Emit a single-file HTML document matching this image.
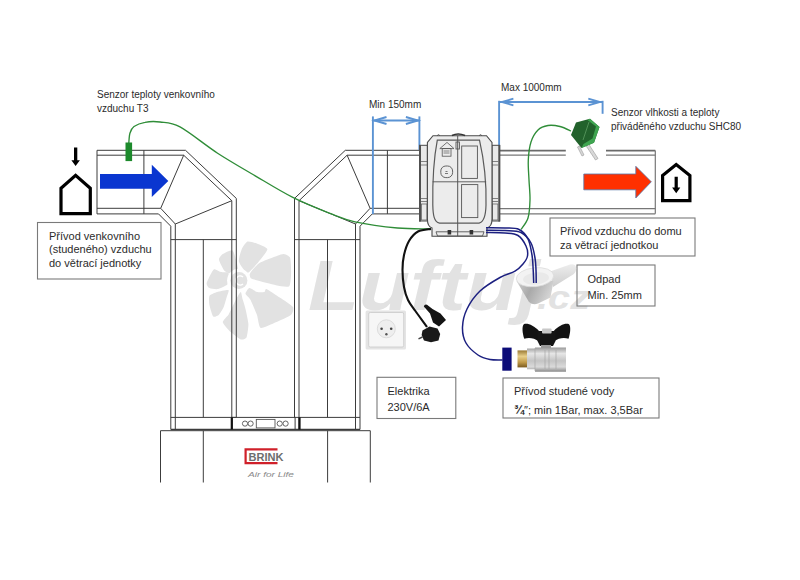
<!DOCTYPE html>
<html><head><meta charset="utf-8"><style>
html,body{margin:0;padding:0;background:#fff;}
body{width:800px;height:580px;overflow:hidden;position:relative;}
svg{position:absolute;left:0;top:0;}
text{font-family:"Liberation Sans",sans-serif;}
</style></head><body>
<svg width="800" height="580" viewBox="0 0 800 580">
<rect width="800" height="580" fill="#fff"/>
<path d="M238.9,261.6 C238.4,259.2 240.9,251.2 241.7,249.2 C242.6,247.2 245.9,242.2 247.4,241.6 C249.0,241.1 254.9,242.8 256.9,243.5 C258.9,244.3 267.2,247.4 267.4,249.2 C267.6,251.0 260.4,259.5 258.8,261.6 C257.2,263.7 252.5,269.0 251.2,270.1 C250.0,271.2 247.7,273.8 246.5,273.0 C245.3,272.1 239.4,263.9 238.9,261.6Z" fill="#e2e2e2"/>
<path d="M250.3,273.0 C251.0,271.4 256.6,265.0 258.8,263.5 C261.0,261.9 269.6,258.7 272.1,257.8 C274.6,256.8 281.7,254.0 283.5,254.0 C285.3,254.0 289.4,255.9 290.1,257.8 C290.9,259.7 291.2,270.1 291.1,273.0 C291.0,275.8 290.7,285.0 289.2,286.2 C287.7,287.5 279.7,286.0 275.9,285.3 C272.1,284.5 253.8,279.9 251.2,278.6 C248.7,277.4 249.5,274.5 250.3,273.0Z" fill="#e2e2e2"/>
<path d="M249.3,288.1 C250.5,287.9 255.4,291.5 256.9,291.9 C258.4,292.3 263.6,292.2 264.5,291.9 C265.5,291.6 264.9,288.5 266.4,289.1 C267.9,289.6 277.0,295.8 279.7,297.6 C282.4,299.4 291.8,305.4 293.0,307.1 C294.1,308.8 292.8,313.2 291.1,314.7 C289.4,316.2 278.9,321.0 275.9,322.3 C272.9,323.6 262.6,328.7 260.7,328.0 C258.8,327.2 258.0,317.5 256.9,314.7 C255.9,311.9 251.4,301.6 250.3,299.5 C249.1,297.4 245.6,295.0 245.5,293.8 C245.4,292.7 248.2,288.3 249.3,288.1Z" fill="#e2e2e2"/>
<path d="M240.8,291.9 C241.4,292.1 242.2,297.8 242.7,299.5 C243.2,301.2 245.0,306.5 245.5,309.0 C246.1,311.5 248.3,321.3 248.4,324.2 C248.5,327.0 247.2,335.9 246.5,337.5 C245.7,339.0 242.4,339.9 240.8,339.4 C239.2,338.8 232.2,333.5 230.4,331.8 C228.6,330.1 223.0,324.0 222.8,322.3 C222.6,320.6 227.5,316.2 228.5,314.7 C229.4,313.2 231.4,308.8 232.3,307.1 C233.1,305.4 236.1,299.1 237.0,297.6 C237.9,296.1 240.2,291.7 240.8,291.9Z" fill="#e2e2e2"/>
<path d="M228.5,290.0 C229.4,290.6 227.0,295.9 226.6,297.6 C226.1,299.3 224.5,305.4 223.7,307.1 C223.0,308.8 220.0,313.7 219.0,314.7 C217.9,315.6 214.2,317.5 213.3,316.6 C212.3,315.6 209.9,307.3 209.5,305.2 C209.1,303.1 208.7,297.0 209.5,295.7 C210.2,294.4 215.2,292.5 217.1,291.9 C219.0,291.4 227.5,289.5 228.5,290.0Z" fill="#e2e2e2"/>
<path d="M228.5,273.0 C229.1,274.2 228.6,282.7 227.5,284.3 C226.5,285.9 219.8,288.7 218.0,289.1 C216.2,289.5 210.6,288.7 209.5,288.1 C208.3,287.6 206.5,284.7 206.6,283.4 C206.7,282.1 209.7,276.3 210.4,274.8 C211.2,273.4 213.2,269.4 214.2,269.2 C215.3,268.9 219.4,271.6 220.9,272.0 C222.3,272.4 227.8,271.7 228.5,273.0Z" fill="#e2e2e2"/>
<path d="M232.3,250.2 C233.6,250.7 235.5,257.7 236.1,259.7 C236.6,261.7 238.3,268.7 238.0,270.1 C237.6,271.5 233.6,273.8 232.3,273.9 C230.9,274.0 226.0,272.5 224.7,271.1 C223.3,269.6 219.2,261.4 219.0,259.7 C218.8,258.0 221.4,254.9 222.8,254.0 C224.1,253.0 230.9,249.6 232.3,250.2Z" fill="#e2e2e2"/>
<circle cx="238.9" cy="280.5" r="11.8" fill="#fff"/>
<circle cx="238.9" cy="280.5" r="8.5" fill="#e2e2e2"/>
<path d="M243,277 A4.5,4.5 0 1 0 243,284" stroke="#fff" stroke-width="1.6" fill="none"/>
<text x="308" y="310" font-family="Liberation Sans" font-weight="bold" font-style="italic" font-size="70" fill="#e2e2e2" textLength="232" lengthAdjust="spacingAndGlyphs">Luftuj</text>
<text x="537" y="309" font-family="Liberation Sans" font-weight="bold" font-style="italic" font-size="33" fill="#e2e2e2" textLength="53" lengthAdjust="spacingAndGlyphs">.cz</text>
<line x1="97.00" y1="150.30" x2="185.50" y2="150.30" stroke="#3c3c3c" stroke-width="1.00"/>
<line x1="97.00" y1="155.20" x2="183.70" y2="155.20" stroke="#3c3c3c" stroke-width="1.00"/>
<line x1="97.00" y1="208.30" x2="160.70" y2="208.30" stroke="#3c3c3c" stroke-width="1.00"/>
<line x1="97.00" y1="213.90" x2="158.50" y2="213.90" stroke="#3c3c3c" stroke-width="1.00"/>
<line x1="97.00" y1="150.30" x2="97.00" y2="213.90" stroke="#3c3c3c" stroke-width="1.00"/>
<line x1="143.90" y1="150.30" x2="143.90" y2="213.90" stroke="#3c3c3c" stroke-width="1.00"/>
<line x1="185.50" y1="150.30" x2="236.30" y2="198.40" stroke="#3c3c3c" stroke-width="1.00"/>
<line x1="183.70" y1="155.20" x2="231.80" y2="200.70" stroke="#3c3c3c" stroke-width="1.00"/>
<line x1="183.70" y1="155.20" x2="160.70" y2="208.30" stroke="#3c3c3c" stroke-width="1.00"/>
<line x1="160.70" y1="208.30" x2="175.30" y2="224.00" stroke="#3c3c3c" stroke-width="1.00"/>
<line x1="158.50" y1="213.90" x2="170.80" y2="226.20" stroke="#3c3c3c" stroke-width="1.00"/>
<line x1="231.80" y1="200.70" x2="175.30" y2="224.00" stroke="#3c3c3c" stroke-width="1.00"/>
<line x1="236.30" y1="198.40" x2="236.30" y2="417.40" stroke="#3c3c3c" stroke-width="1.00"/>
<line x1="231.80" y1="200.70" x2="231.80" y2="429.50" stroke="#3c3c3c" stroke-width="1.00"/>
<line x1="175.30" y1="224.00" x2="175.30" y2="429.50" stroke="#3c3c3c" stroke-width="1.00"/>
<line x1="170.80" y1="226.20" x2="170.80" y2="429.50" stroke="#3c3c3c" stroke-width="1.00"/>
<line x1="170.80" y1="239.60" x2="236.30" y2="239.60" stroke="#3c3c3c" stroke-width="1.00"/>
<line x1="203.30" y1="239.60" x2="203.30" y2="417.40" stroke="#3c3c3c" stroke-width="1.00"/>
<line x1="170.80" y1="417.40" x2="236.30" y2="417.40" stroke="#3c3c3c" stroke-width="1.00"/>
<line x1="345.30" y1="150.30" x2="294.50" y2="198.40" stroke="#3c3c3c" stroke-width="1.00"/>
<line x1="347.10" y1="155.20" x2="299.00" y2="200.70" stroke="#3c3c3c" stroke-width="1.00"/>
<line x1="347.10" y1="155.20" x2="370.10" y2="208.30" stroke="#3c3c3c" stroke-width="1.00"/>
<line x1="370.10" y1="208.30" x2="355.50" y2="224.00" stroke="#3c3c3c" stroke-width="1.00"/>
<line x1="372.30" y1="213.90" x2="360.00" y2="226.20" stroke="#3c3c3c" stroke-width="1.00"/>
<line x1="299.00" y1="200.70" x2="355.50" y2="224.00" stroke="#3c3c3c" stroke-width="1.00"/>
<line x1="294.50" y1="198.40" x2="294.50" y2="417.40" stroke="#3c3c3c" stroke-width="1.00"/>
<line x1="299.00" y1="200.70" x2="299.00" y2="429.50" stroke="#3c3c3c" stroke-width="1.00"/>
<line x1="355.50" y1="224.00" x2="355.50" y2="429.50" stroke="#3c3c3c" stroke-width="1.00"/>
<line x1="360.00" y1="226.20" x2="360.00" y2="429.50" stroke="#3c3c3c" stroke-width="1.00"/>
<line x1="360.00" y1="239.60" x2="294.50" y2="239.60" stroke="#3c3c3c" stroke-width="1.00"/>
<line x1="327.50" y1="239.60" x2="327.50" y2="417.40" stroke="#3c3c3c" stroke-width="1.00"/>
<line x1="360.00" y1="417.40" x2="294.50" y2="417.40" stroke="#3c3c3c" stroke-width="1.00"/>
<line x1="345.30" y1="150.30" x2="419.00" y2="150.30" stroke="#3c3c3c" stroke-width="1.00"/>
<line x1="347.10" y1="155.20" x2="419.00" y2="155.20" stroke="#3c3c3c" stroke-width="1.00"/>
<line x1="370.10" y1="208.30" x2="419.00" y2="208.30" stroke="#3c3c3c" stroke-width="1.00"/>
<line x1="372.30" y1="213.90" x2="419.00" y2="213.90" stroke="#3c3c3c" stroke-width="1.00"/>
<line x1="387.40" y1="150.30" x2="387.40" y2="213.90" stroke="#3c3c3c" stroke-width="1.00"/>
<line x1="170.80" y1="429.50" x2="360.00" y2="429.50" stroke="#3c3c3c" stroke-width="1.30"/>
<line x1="500.00" y1="150.60" x2="565.80" y2="150.60" stroke="#6a6a6a" stroke-width="1.60"/>
<line x1="606.00" y1="150.60" x2="655.30" y2="150.60" stroke="#6a6a6a" stroke-width="1.60"/>
<line x1="500.00" y1="155.20" x2="565.80" y2="155.20" stroke="#777" stroke-width="1.20"/>
<line x1="606.00" y1="155.20" x2="655.30" y2="155.20" stroke="#777" stroke-width="1.20"/>
<line x1="500.00" y1="208.60" x2="655.30" y2="208.60" stroke="#777" stroke-width="1.20"/>
<line x1="500.00" y1="213.80" x2="655.30" y2="213.80" stroke="#777" stroke-width="1.20"/>
<line x1="655.30" y1="150.60" x2="655.30" y2="213.80" stroke="#777" stroke-width="1.20"/>
<rect x="231.8" y="417.4" width="63.3" height="12.1" fill="none" stroke="#3c3c3c" stroke-width="1"/>
<line x1="231.80" y1="417.40" x2="231.80" y2="429.50" stroke="#111" stroke-width="2.20"/>
<line x1="299.50" y1="417.40" x2="299.50" y2="429.50" stroke="#111" stroke-width="2.20"/>
<circle cx="245.0" cy="423.6" r="2.6" fill="none" stroke="#555" stroke-width="0.9"/>
<circle cx="250.6" cy="423.6" r="2.6" fill="none" stroke="#555" stroke-width="0.9"/>
<circle cx="279.7" cy="423.6" r="2.6" fill="none" stroke="#555" stroke-width="0.9"/>
<circle cx="285.6" cy="423.6" r="2.6" fill="none" stroke="#555" stroke-width="0.9"/>
<rect x="256.3" y="419.4" width="18.7" height="8.5" fill="none" stroke="#555" stroke-width="0.9"/>
<path d="M160.5,482.5 V430.7 H370.3 V482.5" fill="none" stroke="#3c3c3c" stroke-width="1"/>
<line x1="203.30" y1="430.70" x2="203.30" y2="482.50" stroke="#3c3c3c" stroke-width="1.00"/>
<line x1="327.60" y1="430.70" x2="327.60" y2="482.50" stroke="#3c3c3c" stroke-width="1.00"/>
<path d="M277.5,449.3 H245.6 V463.2 H277.5" fill="none" stroke="#d0202a" stroke-width="2.2"/>
<text x="248.6" y="460.6" font-family="Liberation Sans" font-weight="bold" font-size="10" fill="#6d6d6d" textLength="35" lengthAdjust="spacingAndGlyphs">BRINK</text>
<text x="248" y="477" font-family="Liberation Serif" font-style="italic" font-size="8" fill="#8a8a8a" textLength="46" lengthAdjust="spacingAndGlyphs">Air for Life</text>
<path d="M100,173.9 H151.8 V164.8 L168.3,181 L151.8,197.1 V188.8 H100 Z" fill="#0a36d0"/>
<path d="M583.8,174 H635.8 V166.3 L651.3,181.8 L635.8,198 V189.8 H583.8 Z" fill="#ff3000" stroke="#5577aa" stroke-width="0.8"/>
<path d="M61,213.6 V188.3 L75.6,175.3 L90.3,188.3 V213.6 Z" fill="none" stroke="#000" stroke-width="3.2" stroke-linejoin="miter"/>
<path d="M74,147.5 H77.3 V160.3 H79.9 L75.6,166 L71.4,160.3 H74 Z" fill="#000"/>
<path d="M662.6,200.7 V175.6 L676.2,164.5 L689.9,175.6 V200.7 Z" fill="none" stroke="#000" stroke-width="3.2"/>
<path d="M674.6,176.8 H677.8 V187.4 H680.3 L676.2,193.3 L672.1,187.4 H674.6 Z" fill="#000"/>
<g stroke="#5b93d3" stroke-width="1.9" fill="none">
<path d="M372.9,116.4 V214"/><path d="M419.4,116.4 V150"/><path d="M373.5,120.5 H419"/>
<path d="M386.5,117 L374.5,120.5 L386.5,124"/><path d="M405.9,117 L417.9,120.5 L405.9,124"/>
<path d="M499.1,100.8 V150.6"/><path d="M602.6,100.8 V113.8"/><path d="M499.8,102 H602"/>
<path d="M513.4,98.7 L501.9,102 L513.4,105.3"/><path d="M588.3,98.7 L599.8,102 L588.3,105.3"/>
</g>
<text x="97.0" y="98.0" font-size="10.0" fill="#2b2b2b" >Senzor teploty venkovního</text>
<text x="97.0" y="111.5" font-size="10.0" fill="#2b2b2b" >vzduchu T3</text>
<text x="369.0" y="107.5" font-size="10.0" fill="#2b2b2b" >Min 150mm</text>
<text x="501.0" y="91.0" font-size="10.0" fill="#2b2b2b" >Max 1000mm</text>
<text x="611.0" y="116.0" font-size="10.0" fill="#2b2b2b" >Senzor vlhkosti a teploty</text>
<text x="611.0" y="129.5" font-size="10.0" fill="#2b2b2b" >přiváděného vzduchu SHC80</text>
<rect x="37.5" y="222.5" width="123.5" height="56.5" fill="none" stroke="#7a7a7a" stroke-width="1.1"/>
<text x="49.0" y="239.5" font-size="11.0" fill="#2b2b2b" >Přívod venkovního</text>
<text x="49.0" y="253.0" font-size="11.0" fill="#2b2b2b" >(studeného) vzduchu</text>
<text x="49.0" y="266.5" font-size="11.0" fill="#2b2b2b" >do větrací jednotky</text>
<rect x="550.0" y="218.0" width="145.0" height="38.0" fill="none" stroke="#7a7a7a" stroke-width="1.1"/>
<text x="560.0" y="235.0" font-size="11.0" fill="#2b2b2b" >Přívod vzduchu do domu</text>
<text x="560.0" y="248.5" font-size="11.0" fill="#2b2b2b" >za větrací jednotkou</text>
<rect x="577.0" y="265.0" width="78.0" height="41.0" fill="none" stroke="#7a7a7a" stroke-width="1.1"/>
<text x="587.5" y="282.5" font-size="11.0" fill="#2b2b2b" >Odpad</text>
<text x="587.5" y="299.0" font-size="11.0" fill="#2b2b2b" >Min. 25mm</text>
<rect x="377.0" y="377.3" width="78.8" height="41.2" fill="none" stroke="#7a7a7a" stroke-width="1.1"/>
<text x="387.5" y="395.3" font-size="11.0" fill="#2b2b2b" >Elektrika</text>
<text x="387.5" y="411.0" font-size="11.0" fill="#2b2b2b" >230V/6A</text>
<rect x="503.0" y="378.0" width="156.0" height="40.0" fill="none" stroke="#7a7a7a" stroke-width="1.1"/>
<text x="514.0" y="395.0" font-size="11.0" fill="#2b2b2b" >Přívod studené vody</text>
<text x="514.0" y="414.0" font-size="11.0" fill="#2b2b2b" ><tspan font-weight="bold" font-size="12">¾</tspan>″; min 1Bar, max. 3,5Bar</text>
<g stroke="#4a4a4a" stroke-width="1">
<rect x="419.5" y="145.3" width="7.9" height="75.7" fill="#e9e9e9"/>
<rect x="492" y="145.3" width="7.6" height="75.7" fill="#e9e9e9"/>
</g>
<line x1="420" y1="145" x2="420" y2="221.5" stroke="#505050" stroke-width="2"/>
<line x1="499.3" y1="145" x2="499.3" y2="221.5" stroke="#505050" stroke-width="2"/>
<g stroke="#666" stroke-width="0.8" fill="none">
<line x1="421" y1="161.5" x2="427.4" y2="161.5"/>
<line x1="492" y1="161.5" x2="498.3" y2="161.5"/>
<line x1="421" y1="165.0" x2="427.4" y2="165.0"/>
<line x1="492" y1="165.0" x2="498.3" y2="165.0"/>
<line x1="421" y1="198.5" x2="427.4" y2="198.5"/>
<line x1="492" y1="198.5" x2="498.3" y2="198.5"/>
<line x1="421" y1="201.5" x2="427.4" y2="201.5"/>
<line x1="492" y1="201.5" x2="498.3" y2="201.5"/>
<rect x="421.5" y="204" width="5.5" height="16"/>
<rect x="492.4" y="204" width="5.5" height="16"/>
</g>
<path d="M433,135.7 H486.5 L492,142.5 V219 Q492,226.5 487,228 V236.2 H432 V228 Q427.4,226.5 427.4,219 V142.5 Z" fill="#ececec" stroke="#4a4a4a" stroke-width="1.1"/>
<g fill="none" stroke="#555" stroke-width="0.9">
<path d="M437.3,140.2 H479.5 C484,160 486.5,185 486,205 C485.8,215 484,222 479,223.2 H439.5 C434,222 433,215 432.8,205 C432.5,185 433.5,160 437.3,140.2 Z" stroke-width="1.2" stroke="#5a5a5a"/>
<line x1="432.6" y1="181.8" x2="486.2" y2="181.8"/>
<rect x="461.7" y="146" width="15.7" height="32.4"/>
<rect x="461.6" y="184.6" width="16.2" height="33"/>
<rect x="440.8" y="166" width="11.8" height="11.6" rx="5"/>
<path d="M439.8,148.6 L447,142.4 L454,148.6 Z" stroke-width="0.8"/><rect x="442.2" y="148.6" width="8.8" height="7.6" stroke-width="0.8"/>
<path d="M443.5,151 H449.5 M443.5,153 H449.5" stroke="#777" stroke-width="0.9"/>
<rect x="456" y="142" width="3.4" height="7"/>
<path d="M436,231.8 H484 L482.5,236 H437.5 Z"/>
</g>
<line x1="457.7" y1="135.7" x2="457.7" y2="236" stroke="#555" stroke-width="1"/>
<rect x="447.6" y="230" width="3.6" height="4.5" fill="#333"/>
<rect x="469.6" y="230" width="3.6" height="4.5" fill="#333"/>
<path d="M437,135.7 q1.5,-2 3,0 M479,135.7 q1.5,-2 3,0" stroke="#555" stroke-width="1" fill="none"/>
<path d="M452,135.5 q6,-3 13,0" stroke="#333" stroke-width="1.6" fill="none"/>
<path d="M445,173.5 h3 M445.5,171.5 h2" stroke="#777" stroke-width="1"/>
<defs><linearGradient id="fun" x1="0" y1="0" x2="1" y2="0.3"><stop offset="0" stop-color="#cfcfcf"/><stop offset="0.45" stop-color="#a9a9a9"/><stop offset="1" stop-color="#d4d4d4"/></linearGradient><linearGradient id="spout" x1="0" y1="0" x2="0" y2="1"><stop offset="0" stop-color="#ededed"/><stop offset="1" stop-color="#cdcdcd"/></linearGradient></defs>
<path d="M550,271.5 L570,264.5 Q576,263.3 576.2,268.5 Q576,273.5 571.5,275.5 L553,287 Z" fill="url(#spout)"/>
<path d="M516.5,281 L529,302 Q533,305.5 538,303.5 L550.5,297.5 L553.5,281 Z" fill="url(#fun)"/>
<ellipse cx="535" cy="277.2" rx="18.8" ry="9.5" transform="rotate(-6 535 277.2)" fill="#f3f3f3" stroke="#d8d8d8" stroke-width="0.7"/>
<ellipse cx="536" cy="278.5" rx="13" ry="6" transform="rotate(-6 536 278.5)" fill="#e9e9e9"/>
<path d="M128.8,143.0 C129.0,141.3 129.1,135.8 130.0,133.0 C130.9,130.2 131.5,128.3 134.0,126.5 C136.5,124.7 140.7,123.0 145.0,122.3 C149.3,121.5 154.2,121.2 160.0,122.0 C165.8,122.8 170.4,121.7 180.0,126.9 C189.6,132.1 205.1,145.0 217.6,153.2 C230.1,161.3 242.7,168.4 255.2,175.8 C267.7,183.2 280.3,191.1 292.8,197.4 C305.3,203.7 319.6,209.3 330.0,213.4 C340.4,217.5 343.8,219.3 355.0,221.8 C366.2,224.2 384.8,226.8 397.5,228.0 C410.2,229.2 425.4,228.7 431.0,228.8" fill="none" stroke="#2f8d38" stroke-width="1.35"/>
<rect x="125.5" y="142.5" width="6.6" height="18.6" fill="#1d8a2c"/>
<path d="M571.0,131.0 C569.2,130.2 563.8,127.4 560.0,126.5 C556.2,125.6 551.7,124.9 548.0,125.5 C544.3,126.1 540.8,127.2 538.0,130.0 C535.2,132.8 532.6,137.0 531.0,142.0 C529.4,147.0 528.6,153.7 528.3,160.0 C528.0,166.3 528.7,173.3 529.0,180.0 C529.3,186.7 530.2,193.7 530.0,200.0 C529.8,206.3 529.5,213.1 528.0,218.0 C526.5,222.9 522.2,227.6 521.0,229.5" fill="none" stroke="#2f8d38" stroke-width="1.35"/>
<path d="M431.0,229.0 C428.8,229.4 421.7,229.5 418.0,231.5 C414.3,233.5 411.3,237.1 409.0,241.0 C406.7,244.9 405.1,250.2 404.0,255.0 C402.9,259.8 402.5,264.7 402.5,270.0 C402.5,275.3 403.1,282.0 404.0,287.0 C404.9,292.0 406.1,296.0 408.0,300.0 C409.9,304.0 412.2,306.5 415.4,311.0 C418.6,315.5 425.1,324.3 427.0,327.0" fill="none" stroke="#111" stroke-width="2.1"/>
<path d="M486.0,227.8 C489.2,227.8 499.5,227.7 505.0,228.0 C510.5,228.3 515.2,227.7 519.0,229.5 C522.8,231.3 525.8,234.8 528.0,239.0 C530.2,243.2 531.1,249.8 532.0,255.0 C532.9,260.2 532.9,265.3 533.2,270.0 C533.5,274.7 533.6,280.8 533.7,283.0" fill="none" stroke="#1c2080" stroke-width="1.5"/>
<path d="M486.0,230.2 C489.2,230.2 499.2,230.1 505.0,230.5 C510.8,230.9 516.7,230.4 521.0,232.5 C525.3,234.6 528.7,238.8 531.0,243.0 C533.3,247.2 534.2,253.5 535.0,258.0 C535.8,262.5 535.8,265.8 536.0,270.0 C536.2,274.2 536.2,280.8 536.2,283.0" fill="none" stroke="#1c2080" stroke-width="1.5"/>
<path d="M486.0,232.5 C489.2,232.6 499.7,232.5 505.0,233.0 C510.3,233.5 514.5,233.3 518.0,235.5 C521.5,237.7 524.4,242.6 526.0,246.0 C527.6,249.4 528.0,253.0 527.5,256.0 C527.0,259.0 525.1,261.5 523.0,264.0 C520.9,266.5 518.8,269.0 515.0,271.2 C511.2,273.5 505.8,274.2 500.0,277.5 C494.2,280.8 485.5,285.8 480.0,291.0 C474.5,296.2 469.9,303.0 467.0,309.0 C464.1,315.0 462.7,321.3 462.5,327.0 C462.3,332.7 463.4,338.3 466.0,343.0 C468.6,347.7 474.0,352.2 478.0,355.0 C482.0,357.8 485.9,358.7 490.0,359.5 C494.1,360.3 500.4,359.9 502.5,360.0" fill="none" stroke="#1c2080" stroke-width="1.5"/>
<path d="M588,143 L598,158.5 L595.5,160 L585.5,145 Z" fill="#d8d8d8" stroke="#999" stroke-width="0.6"/>
<path d="M579.5,146 L584,155 L582,156 L577.5,147 Z" fill="#d8d8d8" stroke="#999" stroke-width="0.6"/>
<path d="M571,135 L576,122.5 L590,118.8 L599.5,127 L594,142.8 L581.5,148 Z" fill="#22622c"/>
<path d="M590,118.8 L599.5,127 L594,142.8 L581.5,148 L583.5,144 L592.5,138.5 L596,126.5 L587.5,120 Z" fill="#3fa550"/>
<path d="M589,122 L583,140" stroke="#7fbf80" stroke-width="0.5"/>
<rect x="365.6" y="310.6" width="40.4" height="38.8" rx="1.5" fill="#e4e4e4"/>
<rect x="368.7" y="312.5" width="35" height="34.5" rx="1.5" fill="#f6f6f6" stroke="#c9c9c9" stroke-width="0.8"/>
<circle cx="386.3" cy="328.8" r="9" fill="#eeeeee" stroke="#d6d6d6" stroke-width="0.8"/>
<circle cx="381.6" cy="328.8" r="1.3" fill="#444"/><circle cx="391.2" cy="328.8" r="1.3" fill="#444"/><circle cx="386.4" cy="334.2" r="1.2" fill="#555"/>
<path d="M423.8,306.5 Q424.5,304 427,304.8 L432.5,309 L440.5,313.5 L446,320 L439,326.5 L433,322.5 L430,313.5 Z" fill="#141414"/>
<path d="M422.5,330.5 L429.5,326.5 L437.5,328.5 L440.2,334 L438.5,340.5 L431,342.2 L424,340.5 L421.6,335 Z" fill="#1a1a1a"/>
<path d="M418.5,338.8 L422.5,337" stroke="#444" stroke-width="1.4"/>
<path d="M539,331 C534,325.5 527.5,322.8 523.8,324.2 C521.8,326 522.3,333 524.3,338.8 C529,337.2 534,338 539,341.5 Z" fill="#121212"/>
<path d="M553.8,331 C558.8,325.5 565.3,322.8 569,324.2 C571,326 570.5,333 568.5,338.8 C563.8,337.2 558.8,338 553.8,341.5 Z" fill="#121212"/>
<path d="M537.5,331 H555.5 V341 L553,346 H540 L537.5,341 Z" fill="#151515"/>
<rect x="542" y="328.6" width="9.6" height="5" rx="1" fill="#c8c8c8"/>
<rect x="541" y="345" width="10" height="3.5" fill="#9a9a9a"/>
<defs><linearGradient id="silv" x1="0" y1="0" x2="0" y2="1"><stop offset="0" stop-color="#9a9a9a"/><stop offset="0.25" stop-color="#e6e6e6"/><stop offset="0.55" stop-color="#c4c4c4"/><stop offset="0.8" stop-color="#dadada"/><stop offset="1" stop-color="#8a8a8a"/></linearGradient><linearGradient id="brass" x1="0" y1="0" x2="0" y2="1"><stop offset="0" stop-color="#9a7a35"/><stop offset="0.35" stop-color="#e8cf8a"/><stop offset="0.7" stop-color="#c09a48"/><stop offset="1" stop-color="#7a5a20"/></linearGradient><linearGradient id="fun" x1="0" y1="0" x2="1" y2="1"><stop offset="0" stop-color="#cfcfcf"/><stop offset="0.5" stop-color="#b9b9b9"/><stop offset="1" stop-color="#e0e0e0"/></linearGradient></defs>
<rect x="517.5" y="350.4" width="10" height="17" fill="url(#brass)"/>
<path d="M527,348.5 H535 V347.5 H566 V371.7 H535 V369.3 H527 Z" fill="url(#silv)"/><path d="M545,350 V369 M549,350 V369 M556,350 V369 M535,348 V371" stroke="#a8a8a8" stroke-width="0.7"/>
<rect x="502.3" y="347.6" width="9.3" height="23.1" fill="#0c0c78"/>
</svg>
</body></html>
